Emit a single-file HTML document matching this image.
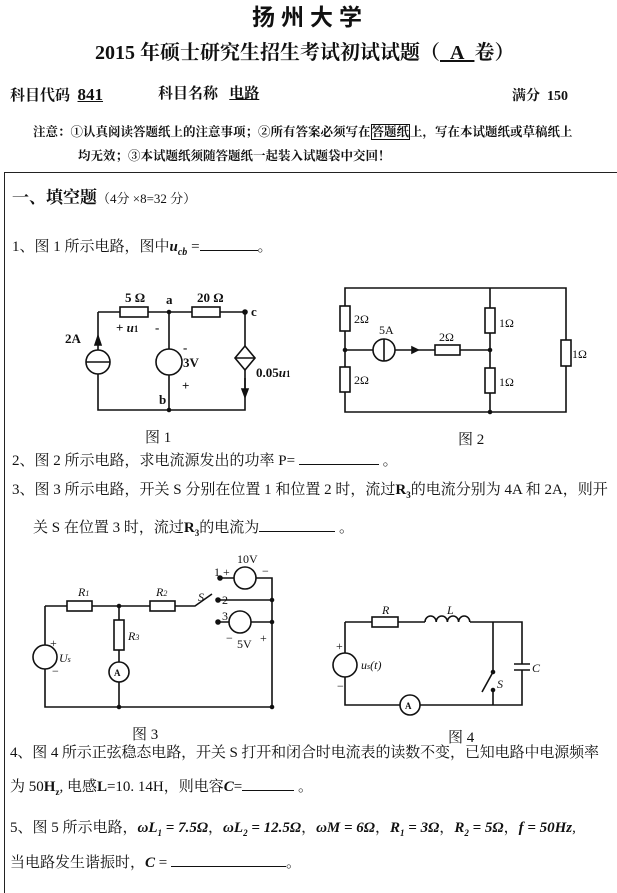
<!DOCTYPE html>
<html><head><meta charset="utf-8"><style>
html,body{margin:0;padding:0;background:#fff;}
body{width:617px;height:885px;position:relative;overflow:hidden;font-family:"Liberation Serif","Noto Serif CJK SC",serif;color:#111;}
.t{position:absolute;white-space:nowrap;line-height:1;}
.b{font-weight:bold;}
.s{font-family:"Liberation Sans","Noto Sans CJK SC",sans-serif;}
.u{display:inline-block;border-bottom:1px solid #111;height:12px;vertical-align:baseline;}
svg text{font-family:"Liberation Serif","Noto Serif CJK SC",serif;}
</style></head><body>
<div class="t b s" style="left:252px;top:6px;font-size:23px;letter-spacing:6px;">扬州大学</div>
<div class="t b" style="left:95px;top:43px;font-size:20px;">2015 年硕士研究生招生考试初试试题（<span style="text-decoration:underline;">&nbsp;&nbsp;A&nbsp;&nbsp;</span>卷）</div>
<div class="t b" style="left:10px;top:86px;font-size:15px;">科目代码&nbsp; <span style="text-decoration:underline;font-size:17px;">841</span></div>
<div class="t b" style="left:158px;top:87px;font-size:15px;">科目名称&nbsp;&nbsp; <span style="text-decoration:underline;">电路</span></div>
<div class="t b" style="left:512px;top:90px;font-size:14px;">满分&nbsp; 150</div>
<div class="t b" style="left:33px;top:126px;font-size:12.5px;">注意：①认真阅读答题纸上的注意事项；②所有答案必须写在<span style="border:1px solid #111;">答题纸</span>上，写在本试题纸或草稿纸上</div>
<div class="t b" style="left:78px;top:150px;font-size:12.5px;">均无效；③本试题纸须随答题纸一起装入试题袋中交回！</div>
<div style="position:absolute;left:4px;top:172px;width:620px;height:720px;border-left:1.5px solid #222;border-top:1.5px solid #222;"></div>
<div class="t" style="left:12px;top:189px;font-size:17px;"><b>一、填空题</b><span style="font-size:13px;">（4分 ×8=32 分）</span></div>
<div class="t" style="left:12px;top:238px;font-size:15px;">1、图 1 所示电路，图中<b><i>u<sub style="font-size:10px">cb</sub></i></b> =<span class="u" style="width:58px"></span>。</div>
<div class="t" style="left:12px;top:452px;font-size:15px;">2、图 2 所示电路，求电流源发出的功率 P= <span class="u" style="width:80px"></span> 。</div>
<div class="t" style="left:12px;top:483px;font-size:15px;">3、图 3 所示电路，开关 S 分别在位置 1 和位置 2 时，流过<b>R<sub style="font-size:9px">3</sub></b>的电流分别为 4A 和 2A，则开</div>
<div class="t" style="left:33px;top:519px;font-size:15px;">关 S 在位置 3 时，流过<b>R<sub style="font-size:9px">3</sub></b>的电流为<span class="u" style="width:76px"></span> 。</div>
<div class="t" style="left:10px;top:746px;font-size:15px;letter-spacing:-0.1px;">4、图 4 所示正弦稳态电路，开关 S 打开和闭合时电流表的读数不变，已知电路中电源频率</div>
<div class="t" style="left:10px;top:778px;font-size:15px;">为 50<b>H<sub style="font-size:9px">z</sub></b>, 电感<b>L</b>=10. 14H，则电容<b><i>C</i></b>=<span class="u" style="width:52px"></span> 。</div>
<div class="t" style="left:10px;top:821px;font-size:15px;">5、图 5 所示电路，<b><i>ωL<sub style="font-size:9px">1</sub> = 7.5Ω</i></b>，<b><i>ωL<sub style="font-size:9px">2</sub> = 12.5Ω</i></b>，<b><i>ωM = 6Ω</i></b>，<b><i>R<sub style="font-size:9px">1</sub> = 3Ω</i></b>，<b><i>R<sub style="font-size:9px">2</sub> = 5Ω</i></b>，<b><i>f = 50Hz</i></b>,</div>
<div class="t" style="left:10px;top:854px;font-size:15px;">当电路发生谐振时，<b><i>C</i></b> = <span class="u" style="width:115px"></span>。</div>

<svg width="617" height="885" style="position:absolute;left:0;top:0" fill="none" stroke="#111" stroke-width="1.6">
<!-- Fig 1 -->
<path d="M98 312H120M148 312H192M220 312H245V346M245 370V410H98V312M169 312V410"/>
<rect x="120" y="307" width="28" height="10" fill="#fff"/>
<rect x="192" y="307" width="28" height="10" fill="#fff"/>
<circle cx="98" cy="362" r="12" fill="#fff"/><path d="M86 362H110"/>
<path d="M98 336l-3 9h6z" fill="#111"/>
<circle cx="169" cy="362" r="13" fill="#fff"/>
<path d="M245 346l10 12-10 12-10-12z" fill="#fff"/><path d="M235 358H255"/>
<path d="M245 378V394"/><path d="M245 397l-3-8h6z" fill="#111"/>
<circle cx="245" cy="312" r="2" fill="#111"/><circle cx="169" cy="312" r="1.5" fill="#111"/><circle cx="169" cy="410" r="1.5" fill="#111"/>
<g fill="#111" stroke="none" font-size="13" font-weight="bold">
<text x="125" y="302">5 Ω</text><text x="166" y="304">a</text><text x="197" y="302">20 Ω</text><text x="251" y="316">c</text>
<text x="65" y="343">2A</text><text x="116" y="332">+ <tspan font-style="italic">u</tspan><tspan font-size="9">1</tspan></text><text x="155" y="332">-</text>
<text x="183" y="352">-</text><text x="183" y="367">3V</text><text x="182" y="390">+</text><text x="159" y="404">b</text>
<text x="256" y="377">0.05<tspan font-style="italic">u</tspan><tspan font-size="9">1</tspan></text>
<text x="145" y="442" font-weight="normal" font-size="15">图 1</text>
</g>
<!-- Fig 2 -->
<path d="M345 288H566V412H345ZM490 288V412M345 350H373M395 350H435M460 350H490"/>
<g fill="#fff"><rect x="340" y="306" width="10" height="25"/><rect x="340" y="367" width="10" height="25"/>
<rect x="485" y="308" width="10" height="25"/><rect x="485" y="368" width="10" height="25"/>
<rect x="561" y="340" width="10" height="26"/><rect x="435" y="345" width="25" height="10"/>
<circle cx="384" cy="350" r="11"/></g>
<path d="M384 339V361"/><path d="M418 350l-6-3v6z" fill="#111"/>
<circle cx="490" cy="350" r="1.5" fill="#111"/><circle cx="345" cy="350" r="1.5" fill="#111"/><circle cx="490" cy="412" r="1.5" fill="#111"/>
<g fill="#111" stroke="none" font-size="12">
<text x="354" y="323">2Ω</text><text x="354" y="384">2Ω</text><text x="379" y="334">5A</text><text x="439" y="341">2Ω</text>
<text x="499" y="327">1Ω</text><text x="499" y="386">1Ω</text><text x="572" y="358">1Ω</text>
<text x="458" y="444" font-size="15">图 2</text>
</g>
<!-- Fig 3 -->
<path d="M45 606H67M92 606H150M175 606H195L212 594M218 600H272M218 622H229M251 622H272M222 578H234M256 578H272V707H45V606M119 606V620M119 650V662M119 682V707"/>
<g fill="#fff"><rect x="67" y="601" width="25" height="10"/><rect x="150" y="601" width="25" height="10"/><rect x="114" y="620" width="10" height="30"/>
<circle cx="245" cy="578" r="11"/><circle cx="240" cy="622" r="11"/><circle cx="119" cy="672" r="10"/><circle cx="45" cy="657" r="12"/></g>
<g fill="#111"><circle cx="220" cy="578" r="2"/><circle cx="218" cy="600" r="2"/><circle cx="218" cy="622" r="2"/><circle cx="272" cy="600" r="1.5"/><circle cx="272" cy="622" r="1.5"/><circle cx="272" cy="707" r="1.5"/><circle cx="119" cy="606" r="1.5"/><circle cx="119" cy="707" r="1.5"/></g>
<g fill="#111" stroke="none" font-size="12">
<text x="78" y="596" font-style="italic">R<tspan font-size="8">1</tspan></text><text x="156" y="596" font-style="italic">R<tspan font-size="8">2</tspan></text>
<text x="128" y="640" font-style="italic">R<tspan font-size="8">3</tspan></text><text x="198" y="601" font-style="italic">S</text>
<text x="237" y="563">10V</text><text x="214" y="576">1 +</text><text x="262" y="575">−</text><text x="222" y="604">2</text><text x="222" y="620">3</text>
<text x="226" y="642">−</text><text x="237" y="648">5V</text><text x="260" y="642">+</text>
<text x="50" y="647">+</text><text x="59" y="662" font-style="italic">U<tspan font-size="8">s</tspan></text><text x="52" y="675">−</text>
<text x="114" y="676" font-size="9" font-weight="bold">A</text>
<text x="132" y="739" font-size="15">图 3</text>
</g>
<!-- Fig 4 -->
<path d="M345 622H372M398 622H425M470 622H522V655M522 681V705H420M400 705H345V622M493 622V672M493 690V705"/>
<path d="M425 622a5.6 6 0 0 1 11.2 0a5.6 6 0 0 1 11.2 0a5.6 6 0 0 1 11.2 0a5.6 6 0 0 1 11.2 0"/>
<path d="M493 672L482 692"/><path d="M514 664H530M514 670H530"/><path d="M522 664V655M522 670V681"/>
<g fill="#fff"><rect x="372" y="617" width="26" height="10"/><circle cx="345" cy="665" r="12"/><circle cx="410" cy="705" r="10"/></g>
<g fill="#111"><circle cx="493" cy="672" r="1.5"/><circle cx="493" cy="690" r="1.5"/></g>
<g fill="#111" stroke="none" font-size="12">
<text x="382" y="614" font-style="italic">R</text><text x="447" y="614" font-style="italic">L</text>
<text x="336" y="650">+</text><text x="337" y="690">−</text><text x="361" y="669" font-style="italic">u<tspan font-size="8">s</tspan>(t)</text>
<text x="497" y="688" font-style="italic">S</text><text x="532" y="672" font-style="italic">C</text>
<text x="405" y="709" font-size="9" font-weight="bold">A</text>
<text x="448" y="742" font-size="15">图 4</text>
</g>
</svg>
</body></html>
